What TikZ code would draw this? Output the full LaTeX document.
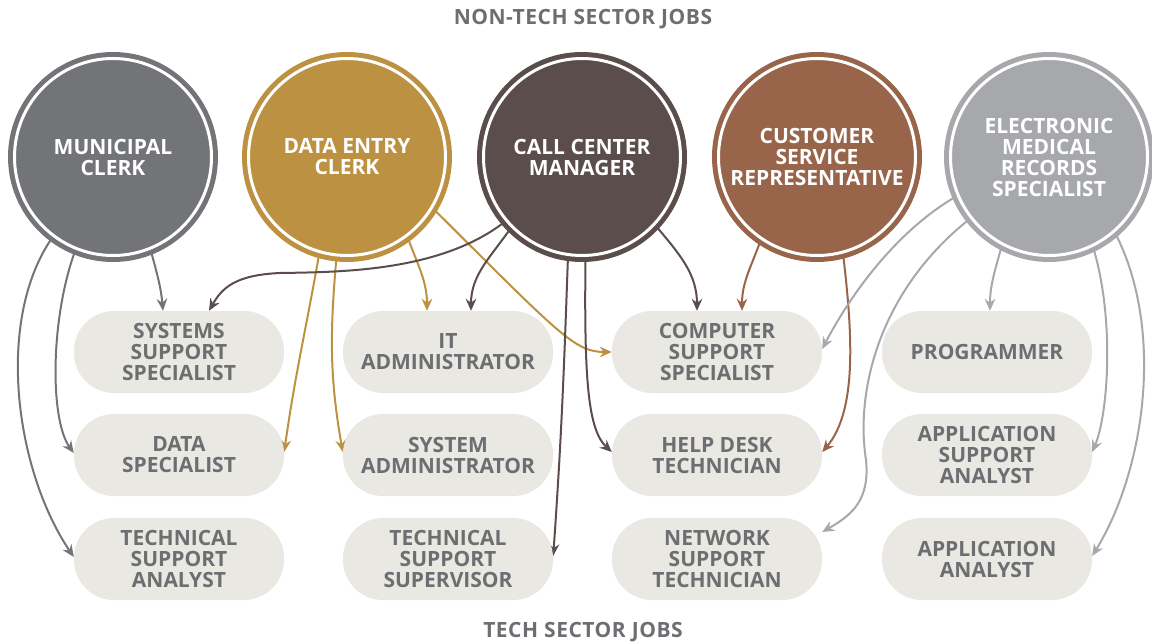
\documentclass[tikz,border=0pt]{standalone}
\usepackage{fontspec}
\setmainfont{Open Sans}
\usetikzlibrary{arrows.meta}
\pgfdeclarelayer{bg}
\pgfsetlayers{bg,main}
\definecolor{cMun}{HTML}{737478}
\definecolor{cDat}{HTML}{BC9242}
\definecolor{cCal}{HTML}{5C4D4D}
\definecolor{cCus}{HTML}{98654B}
\definecolor{cEmr}{HTML}{A7A8AB}
\definecolor{pillc}{HTML}{E9E8E3}
\definecolor{ptext}{HTML}{6D6E71}
\newcommand\jobfont{\fontsize{21}{21}\selectfont\bfseries}
\newcommand\ttlfont{\fontsize{21}{22}\selectfont\bfseries\addfontfeatures{LetterSpace=2.5}}
\begin{document}
\begin{tikzpicture}[x=1pt,y=-1pt,
  job/.style={circle, minimum size=197pt, inner sep=0pt, fill=#1, draw=#1,
    double=white, double distance=3pt, line width=5pt, text=white,
    font=\jobfont, align=center},
  techjob/.style={rectangle, rounded corners=40pt, minimum width=210pt,
    minimum height=82pt, inner sep=0pt, fill=pillc, text=ptext,
    font=\jobfont, align=center},
  ttl/.style={text=ptext, font=\ttlfont, inner sep=0pt},
  conn/.style={line width=2pt, draw=#1,
    -{Stealth[length=12pt,width=10.5pt,inset=4pt]}}]
\useasboundingbox (0,0) rectangle (1152,642);

\node[ttl] (top) at (583,19) {NON-TECH SECTOR JOBS};
\node[ttl] (bot) at (583,632) {TECH SECTOR JOBS};

\node[job=cMun] (mun) at (113,157) {MUNICIPAL\\CLERK};
\node[job=cDat] (dat) at (347,157) {DATA ENTRY\\CLERK};
\node[job=cCal] (cal) at (582,157) {CALL CENTER\\MANAGER};
\node[job=cCus] (cus) at (817,157) {CUSTOMER\\SERVICE\\REPRESENTATIVE};
\node[job=cEmr] (emr) at (1049,157) {ELECTRONIC\\MEDICAL\\RECORDS\\SPECIALIST};

\node[techjob] (ssp) at (179,352) {SYSTEMS\\SUPPORT\\SPECIALIST};
\node[techjob] (dsp) at (179,455) {DATA\\SPECIALIST};
\node[techjob] (tsa) at (179,559) {TECHNICAL\\SUPPORT\\ANALYST};
\node[techjob] (ita) at (448,352) {IT\\ADMINISTRATOR};
\node[techjob] (sya) at (448,455) {SYSTEM\\ADMINISTRATOR};
\node[techjob] (tss) at (448,559) {TECHNICAL\\SUPPORT\\SUPERVISOR};
\node[techjob] (css) at (717,352) {COMPUTER\\SUPPORT\\SPECIALIST};
\node[techjob] (hdt) at (717,455) {HELP DESK\\TECHNICIAN};
\node[techjob] (nst) at (717,559) {NETWORK\\SUPPORT\\TECHNICIAN};
\node[techjob] (prg) at (987,352) {PROGRAMMER};
\node[techjob] (asa) at (987,455) {APPLICATION\\SUPPORT\\ANALYST};
\node[techjob] (aan) at (987,559) {APPLICATION\\ANALYST};

\begin{pgfonlayer}{bg}
% Municipal clerk
\draw[conn=cMun] (mun.-68) to[out=-75,in=95] ([xshift=-16pt]ssp.north);
\draw[conn=cMun] (mun.-112) .. controls (50,320) and (50,420) .. ([yshift=2pt]dsp.west);
\draw[conn=cMun] (mun.-127) .. controls (-5,320) and (15,470) .. ([yshift=2pt]tsa.west);
% Data entry clerk
\draw[conn=cDat] (dat.-106) to[out=-100,in=82] ([yshift=3pt]dsp.east);
\draw[conn=cDat] (dat.-96) to[out=-95,in=100] ([yshift=3pt]sya.west);
\draw[conn=cDat] (dat.-53) to[out=-70,in=90] ([xshift=-21pt]ita.north);
\draw[conn=cDat] (dat.-31) .. controls (560,335) and (575,352) .. (css.west);
% Call center manager
\draw[conn=cCal] (cal.-140) .. controls (440,272) and (340,272) .. (280,273)
  .. controls (235,275) and (222,288) .. ([xshift=30pt]ssp.north);
\draw[conn=cCal] (cal.-135) to[out=-125,in=90] ([xshift=23pt]ita.north);
\draw[conn=cCal] (cal.-98) to[out=-92,in=86] ([yshift=3pt]tss.east);
\draw[conn=cCal] (cal.-88) .. controls (584,380) and (588,430) .. ([yshift=3pt]hdt.west);
\draw[conn=cCal] (cal.-43) to[out=-50,in=90] ([xshift=-20pt]css.north);
% Customer service representative
\draw[conn=cCus] (cus.-124) to[out=-110,in=90] ([xshift=25pt]css.north);
\draw[conn=cCus] (cus.-75) .. controls (852,330) and (858,410) .. ([yshift=3pt]hdt.east);
% Electronic medical records specialist
\draw[conn=cEmr] (emr.-157) .. controls (890,235) and (845,305) .. ([yshift=3pt]css.east);
\draw[conn=cEmr] (emr.-142) .. controls (880,290) and (855,390) .. (866,460)
  .. controls (870,500) and (852,515) .. ([yshift=27pt]nst.east);
\draw[conn=cEmr] (emr.-118) to[out=-105,in=90] ([xshift=3pt]prg.north);
\draw[conn=cEmr] (emr.-64) .. controls (1115,320) and (1108,415) .. ([yshift=3pt]asa.east);
\draw[conn=cEmr] (emr.-49) .. controls (1165,330) and (1145,470) .. ([yshift=3pt]aan.east);
\end{pgfonlayer}
\end{tikzpicture}
\end{document}
